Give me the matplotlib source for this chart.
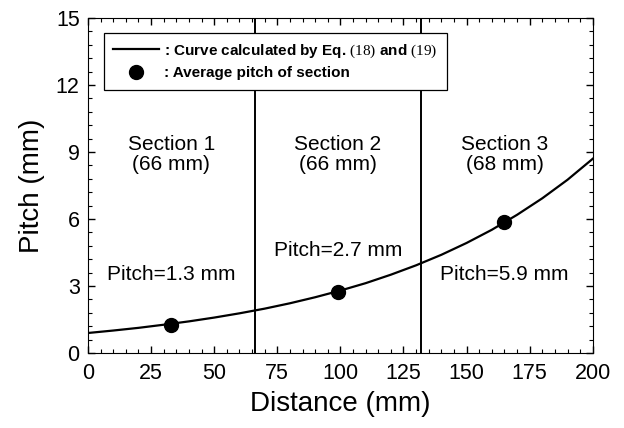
import numpy as np
import matplotlib
matplotlib.use('Agg')
import matplotlib.pyplot as plt
from matplotlib.ticker import MultipleLocator

plt.rcParams['font.family'] = ['Liberation Sans', 'DejaVu Sans']
plt.rcParams['mathtext.fontset'] = 'custom'
plt.rcParams['mathtext.rm'] = 'Liberation Serif'

# curve (Eq. 18 and 19)
dist = [0, 10, 20, 30, 40, 50, 60, 70, 80, 90, 100,
        110, 120, 130, 140, 150, 160, 170, 180, 190, 200]
pitch_curve = [0.90, 1.01, 1.13, 1.27, 1.42, 1.59, 1.78, 1.99, 2.23, 2.50, 2.80,
               3.13, 3.51, 3.93, 4.40, 4.93, 5.52, 6.19, 6.93, 7.76, 8.70]

# average pitch of each section
sec_x = [33, 99, 165]
sec_pitch = [1.26, 2.74, 5.85]
sec_names = ['Section 1\n(66 mm)', 'Section 2\n(66 mm)', 'Section 3\n(68 mm)']
pitch_labels = ['Pitch=1.3 mm', 'Pitch=2.7 mm', 'Pitch=5.9 mm']
borders = [66, 132]

fig = plt.figure(figsize=(6.24, 4.28), dpi=100)
ax = fig.add_axes([0.141, 0.175, 0.809, 0.783])

for b in borders:
    ax.axvline(b, color='black', linewidth=1.4, zorder=1)

ax.plot(dist, pitch_curve, color='black', linewidth=1.6,
        label=r': Curve calculated by Eq. $\mathrm{(18)}$ and $\mathrm{(19)}$')
ax.plot(sec_x, sec_pitch, 'o', color='black', markersize=10,
        label=': Average pitch of section')

# section texts
txt = dict(ha='center', va='center', fontsize=15)
ax.text(sec_x[0], 8.9, sec_names[0], linespacing=1.05, **txt)
ax.text(sec_x[1], 8.9, sec_names[1], linespacing=1.05, **txt)
ax.text(sec_x[2], 8.9, sec_names[2], linespacing=1.05, **txt)
ax.text(sec_x[0], 3.5, pitch_labels[0], **txt)
ax.text(sec_x[1], 4.6, pitch_labels[1], **txt)
ax.text(sec_x[2], 3.5, pitch_labels[2], **txt)

ax.set_xlim(0, 200)
ax.set_ylim(0, 15)
ax.xaxis.set_major_locator(MultipleLocator(25))
ax.xaxis.set_minor_locator(MultipleLocator(5))
ax.yaxis.set_major_locator(MultipleLocator(3))
ax.yaxis.set_minor_locator(MultipleLocator(0.6))
ax.tick_params(which='both', direction='in', top=True, right=True, labelsize=15.5)
ax.tick_params(which='major', length=5, width=1)
ax.tick_params(which='minor', length=3, width=0.8)
ax.tick_params(axis='x', pad=7)
ax.tick_params(axis='y', pad=6)

ax.set_xlabel('Distance (mm)', fontsize=20, labelpad=5)
ax.set_ylabel('Pitch (mm)', fontsize=20, labelpad=8)

leg = ax.legend(loc='upper left', bbox_to_anchor=(0.032, 0.955), borderaxespad=0,
                fancybox=False, framealpha=1, edgecolor='black', handlelength=3.0,
                handletextpad=0.35, borderpad=0.6, labelspacing=0.45,
                prop={'size': 11, 'weight': 'bold'})
leg.get_frame().set_linewidth(0.9)
leg.set_zorder(5)

fig.savefig('out.png', dpi=100)
